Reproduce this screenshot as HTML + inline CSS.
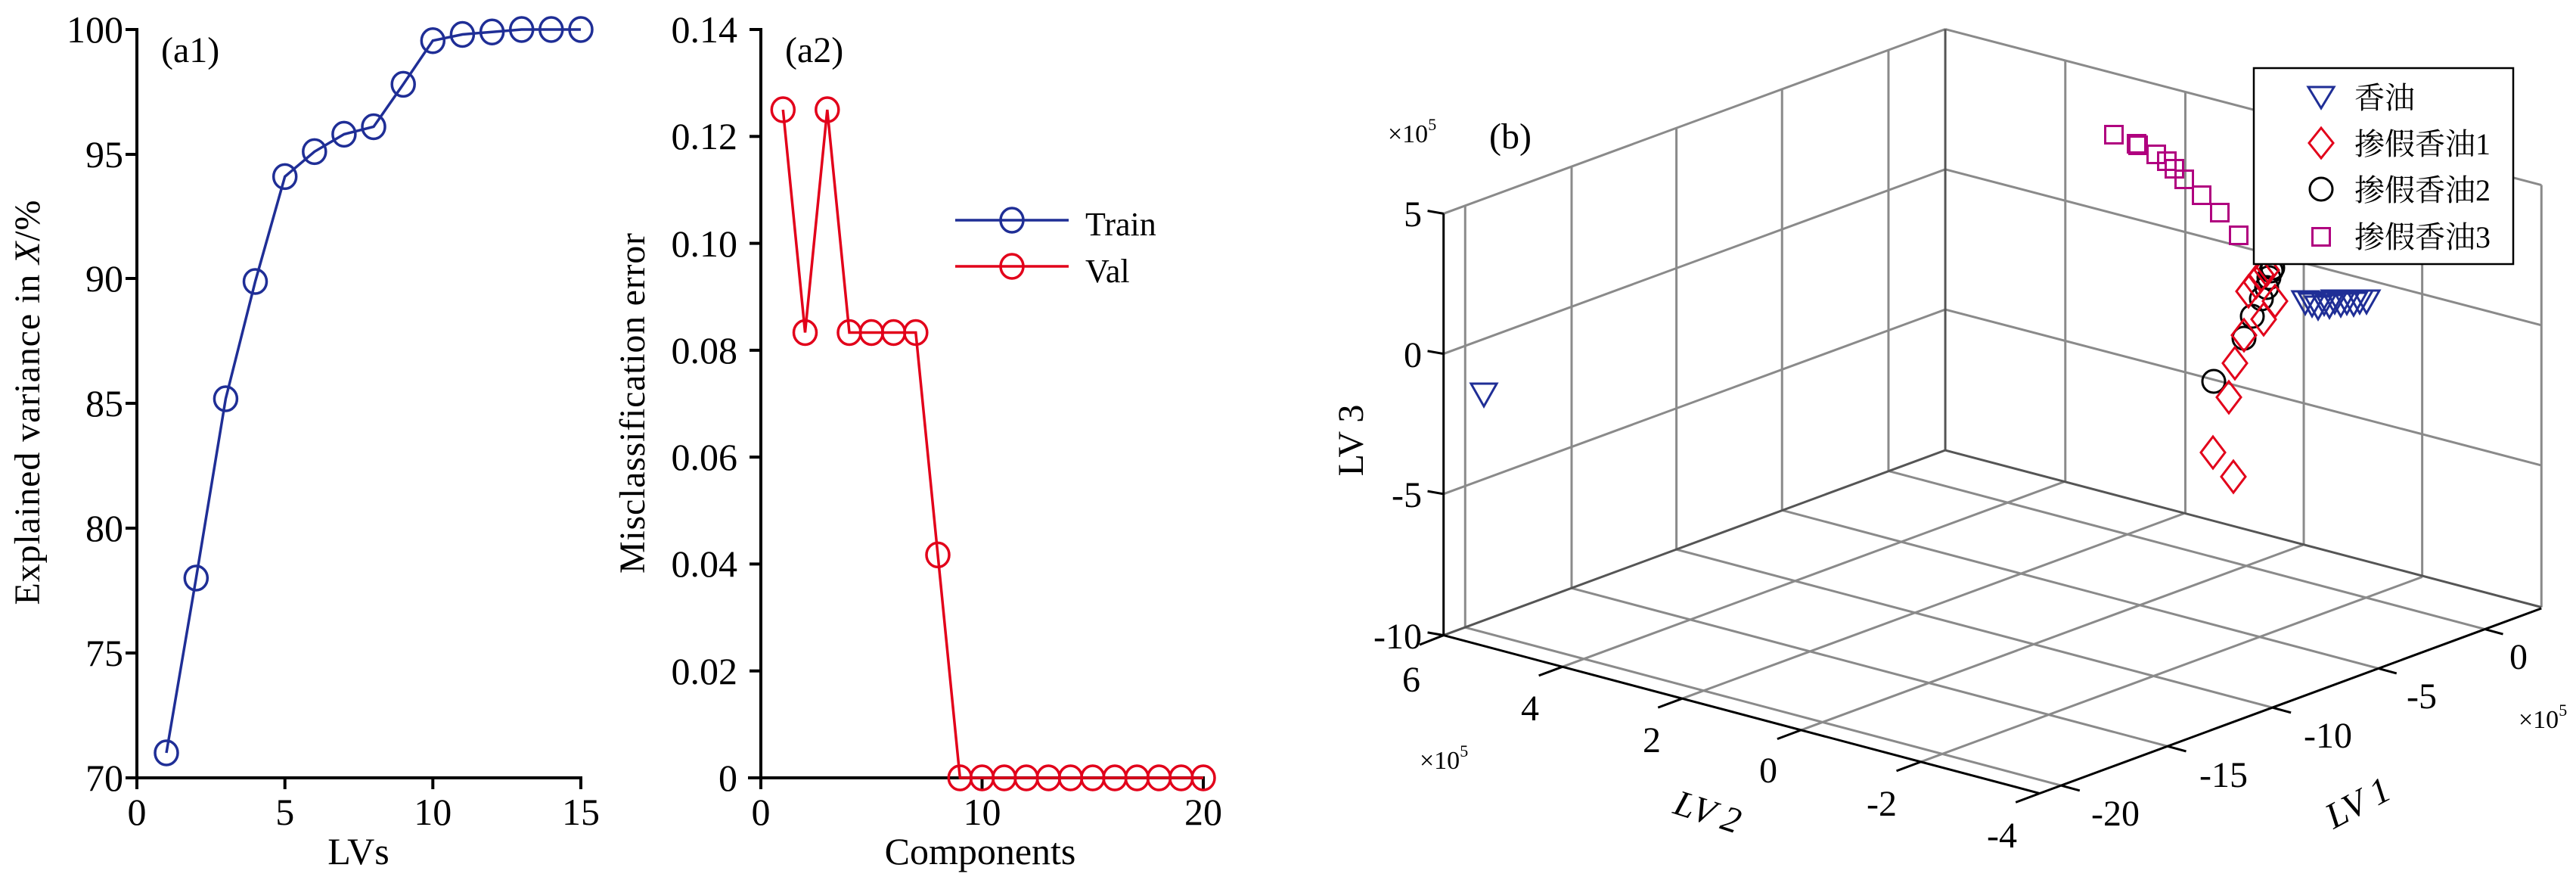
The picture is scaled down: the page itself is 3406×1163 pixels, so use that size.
<!DOCTYPE html>
<html><head><meta charset="utf-8"><style>
html,body{margin:0;padding:0;background:#fff;}
svg{display:block;}
text{font-family:"Liberation Serif","Noto Serif CJK SC",serif;fill:#000;}
</style></head><body>
<svg width="3406" height="1163" viewBox="0 0 3406 1163" xmlns="http://www.w3.org/2000/svg">
<!-- ===== a1 ===== -->
<g stroke="#000" stroke-width="4" fill="none">
<line x1="181" y1="37" x2="181" y2="1030"/>
<line x1="166" y1="1028" x2="770" y2="1028"/>
<line x1="166" y1="39" x2="181" y2="39"/><line x1="166" y1="204" x2="181" y2="204"/><line x1="166" y1="368" x2="181" y2="368"/><line x1="166" y1="533" x2="181" y2="533"/><line x1="166" y1="698" x2="181" y2="698"/><line x1="166" y1="863" x2="181" y2="863"/>
<line x1="181" y1="1028" x2="181" y2="1043"/><line x1="376.7" y1="1028" x2="376.7" y2="1043"/><line x1="572.3" y1="1028" x2="572.3" y2="1043"/><line x1="768" y1="1028" x2="768" y2="1043"/>
</g>
<g font-size="50" text-anchor="end">
<text x="163" y="56">100</text><text x="163" y="221">95</text><text x="163" y="385">90</text><text x="163" y="550">85</text><text x="163" y="715">80</text><text x="163" y="880">75</text><text x="163" y="1045">70</text>
</g>
<g font-size="50" text-anchor="middle">
<text x="181" y="1090">0</text><text x="376.7" y="1090">5</text><text x="572.3" y="1090">10</text><text x="768" y="1090">15</text>
<text x="474" y="1142">LVs</text>
</g>
<text x="213" y="82" font-size="48">(a1)</text>
<text transform="translate(52,532) rotate(-90)" font-size="48" text-anchor="middle" textLength="535">Explained variance in <tspan font-style="italic">X</tspan>/%</text>
<g stroke="#1f2e96" stroke-width="3.5" fill="none">
<polyline points="220,995 259.3,764 298.4,527 337.5,372 376.7,233.4 415.8,200.4 454.9,177.4 494,167.5 533.2,111.4 572.3,53.7 611.4,45.5 650.6,42.2 689.7,39 728.8,39 768,39"/>
<g>
<ellipse cx="220" cy="995" rx="15" ry="16"/><ellipse cx="259.3" cy="764" rx="15" ry="16"/><ellipse cx="298.4" cy="527" rx="15" ry="16"/><ellipse cx="337.5" cy="372" rx="15" ry="16"/><ellipse cx="376.7" cy="233.4" rx="15" ry="16"/><ellipse cx="415.8" cy="200.4" rx="15" ry="16"/><ellipse cx="454.9" cy="177.4" rx="15" ry="16"/><ellipse cx="494" cy="167.5" rx="15" ry="16"/><ellipse cx="533.2" cy="111.4" rx="15" ry="16"/><ellipse cx="572.3" cy="53.7" rx="15" ry="16"/><ellipse cx="611.4" cy="45.5" rx="15" ry="16"/><ellipse cx="650.6" cy="42.2" rx="15" ry="16"/><ellipse cx="689.7" cy="39" rx="15" ry="16"/><ellipse cx="728.8" cy="39" rx="15" ry="16"/><ellipse cx="768" cy="39" rx="15" ry="16"/>
</g></g>
<!-- ===== a2 ===== -->
<g stroke="#000" stroke-width="4" fill="none">
<line x1="1006" y1="37" x2="1006" y2="1030"/>
<line x1="989" y1="1028" x2="1593" y2="1028"/>
<line x1="991" y1="39" x2="1006" y2="39"/><line x1="991" y1="180.3" x2="1006" y2="180.3"/><line x1="991" y1="321.6" x2="1006" y2="321.6"/><line x1="991" y1="462.9" x2="1006" y2="462.9"/><line x1="991" y1="604.1" x2="1006" y2="604.1"/><line x1="991" y1="745.4" x2="1006" y2="745.4"/><line x1="991" y1="886.7" x2="1006" y2="886.7"/>
<line x1="1006" y1="1028" x2="1006" y2="1043"/><line x1="1298.5" y1="1028" x2="1298.5" y2="1043"/><line x1="1591" y1="1028" x2="1591" y2="1043"/>
</g>
<g font-size="50" text-anchor="end">
<text x="975" y="56">0.14</text><text x="975" y="197">0.12</text><text x="975" y="339">0.10</text><text x="975" y="480">0.08</text><text x="975" y="621">0.06</text><text x="975" y="762">0.04</text><text x="975" y="904">0.02</text><text x="975" y="1045">0</text>
</g>
<g font-size="50" text-anchor="middle">
<text x="1006" y="1090">0</text><text x="1298.5" y="1090">10</text><text x="1591" y="1090">20</text>
<text x="1296" y="1142">Components</text>
</g>
<text x="1038" y="82" font-size="48">(a2)</text>
<text transform="translate(852,533) rotate(-90)" font-size="48" text-anchor="middle" textLength="450">Misclassification error</text>
<g fill="none" stroke-width="3.5">
<line x1="1263" y1="291" x2="1413" y2="291" stroke="#1f2e96"/><ellipse cx="1338" cy="291" rx="15" ry="16" stroke="#1f2e96"/>
<line x1="1263" y1="352" x2="1413" y2="352" stroke="#e2001a"/><ellipse cx="1338" cy="352" rx="15" ry="16" stroke="#e2001a"/>
</g>
<text x="1435" y="311" font-size="44">Train</text>
<text x="1435" y="373" font-size="44">Val</text>
<g stroke="#e2001a" stroke-width="3.5" fill="none">
<polyline points="1035.3,145 1064.5,439.5 1093.8,145 1123,439.5 1152.3,439.5 1181.5,439.5 1210.8,439.5 1240,733.4 1269.3,1028 1591,1028"/>
<ellipse cx="1035.3" cy="145" rx="15" ry="16"/><ellipse cx="1064.5" cy="439.5" rx="15" ry="16"/><ellipse cx="1093.8" cy="145" rx="15" ry="16"/><ellipse cx="1123" cy="439.5" rx="15" ry="16"/><ellipse cx="1152.3" cy="439.5" rx="15" ry="16"/><ellipse cx="1181.5" cy="439.5" rx="15" ry="16"/><ellipse cx="1210.8" cy="439.5" rx="15" ry="16"/><ellipse cx="1240" cy="733.4" rx="15" ry="16"/>
<ellipse cx="1269.3" cy="1028" rx="15" ry="16"/><ellipse cx="1298.5" cy="1028" rx="15" ry="16"/><ellipse cx="1327.8" cy="1028" rx="15" ry="16"/><ellipse cx="1357" cy="1028" rx="15" ry="16"/><ellipse cx="1386.3" cy="1028" rx="15" ry="16"/><ellipse cx="1415.5" cy="1028" rx="15" ry="16"/><ellipse cx="1444.8" cy="1028" rx="15" ry="16"/><ellipse cx="1474" cy="1028" rx="15" ry="16"/><ellipse cx="1503.3" cy="1028" rx="15" ry="16"/><ellipse cx="1532.5" cy="1028" rx="15" ry="16"/><ellipse cx="1561.8" cy="1028" rx="15" ry="16"/><ellipse cx="1591" cy="1028" rx="15" ry="16"/>
</g>
<!-- ===== b (3D) ===== -->
<g transform="translate(1750,0) scale(1.058,0.741)" fill="none">
<g stroke="#8a8a8a" stroke-width="3">
<line x1="150" y1="381" x2="777" y2="52" vector-effect="non-scaling-stroke"/>
<line x1="150" y1="631" x2="777" y2="302" vector-effect="non-scaling-stroke"/>
<line x1="150" y1="881" x2="777" y2="552" vector-effect="non-scaling-stroke"/>
<line x1="777" y1="52" x2="1522" y2="330" vector-effect="non-scaling-stroke"/>
<line x1="777" y1="302" x2="1522" y2="580" vector-effect="non-scaling-stroke"/>
<line x1="777" y1="552" x2="1522" y2="830" vector-effect="non-scaling-stroke"/>
<line x1="177" y1="367" x2="177" y2="1119" vector-effect="non-scaling-stroke"/>
<line x1="310" y1="297" x2="310" y2="1049" vector-effect="non-scaling-stroke"/>
<line x1="441" y1="228" x2="441" y2="980" vector-effect="non-scaling-stroke"/>
<line x1="573" y1="159" x2="573" y2="910" vector-effect="non-scaling-stroke"/>
<line x1="706" y1="89" x2="706" y2="840" vector-effect="non-scaling-stroke"/>
<line x1="927" y1="108" x2="927" y2="859" vector-effect="non-scaling-stroke"/>
<line x1="1077" y1="164" x2="1077" y2="916" vector-effect="non-scaling-stroke"/>
<line x1="1225" y1="219" x2="1225" y2="971" vector-effect="non-scaling-stroke"/>
<line x1="1373" y1="274" x2="1373" y2="1027" vector-effect="non-scaling-stroke"/>
<line x1="1522" y1="330" x2="1522" y2="1083" vector-effect="non-scaling-stroke"/>
<line x1="177" y1="1119" x2="922" y2="1401" vector-effect="non-scaling-stroke"/>
<line x1="310" y1="1049" x2="1055" y2="1331" vector-effect="non-scaling-stroke"/>
<line x1="441" y1="980" x2="1186" y2="1262" vector-effect="non-scaling-stroke"/>
<line x1="573" y1="910" x2="1318" y2="1192" vector-effect="non-scaling-stroke"/>
<line x1="706" y1="840" x2="1451" y2="1122" vector-effect="non-scaling-stroke"/>
<line x1="299" y1="1189" x2="926" y2="859" vector-effect="non-scaling-stroke"/>
<line x1="448" y1="1246" x2="1075" y2="916" vector-effect="non-scaling-stroke"/>
<line x1="597" y1="1302" x2="1224" y2="972" vector-effect="non-scaling-stroke"/>
<line x1="746" y1="1359" x2="1373" y2="1029" vector-effect="non-scaling-stroke"/>
</g>
<g stroke="#555" stroke-width="3">
<line x1="777" y1="52" x2="777" y2="803" vector-effect="non-scaling-stroke"/>
<line x1="150" y1="1133" x2="777" y2="803" vector-effect="non-scaling-stroke"/>
<line x1="777" y1="803" x2="1522" y2="1083" vector-effect="non-scaling-stroke"/>
</g>
<g stroke="#000" stroke-width="3">
<line x1="150" y1="381" x2="150" y2="1133" vector-effect="non-scaling-stroke"/>
<line x1="150" y1="1133" x2="895" y2="1415" vector-effect="non-scaling-stroke"/>
<line x1="895" y1="1415" x2="1522" y2="1085" vector-effect="non-scaling-stroke"/>
<line x1="130" y1="376" x2="150" y2="381" vector-effect="non-scaling-stroke"/>
<line x1="130" y1="626" x2="150" y2="631" vector-effect="non-scaling-stroke"/>
<line x1="130" y1="876" x2="150" y2="881" vector-effect="non-scaling-stroke"/>
<line x1="130" y1="1128" x2="150" y2="1133" vector-effect="non-scaling-stroke"/>
<line x1="150" y1="1133" x2="120" y2="1150" vector-effect="non-scaling-stroke"/>
<line x1="299" y1="1189" x2="269" y2="1205" vector-effect="non-scaling-stroke"/>
<line x1="448" y1="1246" x2="418" y2="1262" vector-effect="non-scaling-stroke"/>
<line x1="597" y1="1302" x2="567" y2="1318" vector-effect="non-scaling-stroke"/>
<line x1="746" y1="1359" x2="716" y2="1375" vector-effect="non-scaling-stroke"/>
<line x1="895" y1="1415" x2="865" y2="1431" vector-effect="non-scaling-stroke"/>
<line x1="922" y1="1401" x2="945" y2="1410" vector-effect="non-scaling-stroke"/>
<line x1="1055" y1="1331" x2="1078" y2="1340" vector-effect="non-scaling-stroke"/>
<line x1="1186" y1="1262" x2="1209" y2="1271" vector-effect="non-scaling-stroke"/>
<line x1="1318" y1="1192" x2="1341" y2="1201" vector-effect="non-scaling-stroke"/>
<line x1="1451" y1="1122" x2="1474" y2="1131" vector-effect="non-scaling-stroke"/>
</g>
</g>
<g font-size="48" text-anchor="end">
<text x="1880" y="299">5</text><text x="1880" y="485">0</text><text x="1880" y="670">-5</text><text x="1880" y="857">-10</text>
</g>
<g font-size="48" text-anchor="middle">
<text x="1866" y="914">6</text><text x="2023" y="952">4</text><text x="2184" y="994">2</text><text x="2338" y="1034">0</text><text x="2488" y="1078">-2</text><text x="2647" y="1120">-4</text>
<text x="3330" y="884">0</text><text x="3202" y="936">-5</text><text x="3078" y="988">-10</text><text x="2940" y="1040">-15</text><text x="2797" y="1091">-20</text>
</g>
<g font-size="34">
<text x="1835" y="188">×10<tspan font-size="22" dy="-16">5</tspan></text>
<text x="1877" y="1016">×10<tspan font-size="22" dy="-16">5</tspan></text>
<text x="3330" y="962">×10<tspan font-size="22" dy="-16">5</tspan></text>
</g>
<text x="1997" y="196" font-size="48" text-anchor="middle">(b)</text>
<text transform="translate(1802,582) rotate(-90)" font-size="48" text-anchor="middle">LV 3</text>
<text transform="translate(2253,1088) rotate(18)" font-size="48" text-anchor="middle" font-style="italic">LV 2</text>
<text transform="translate(3125,1075) rotate(-28)" font-size="48" text-anchor="middle" font-style="italic">LV 1</text>
<g fill="none" stroke-width="3">
<g stroke="#b0007f">
<rect x="2783.5" y="166.5" width="23" height="23"/><rect x="2813.5" y="178.5" width="23" height="23"/><rect x="2815.5" y="180.5" width="23" height="23"/><rect x="2839.5" y="192.5" width="23" height="23"/><rect x="2853.5" y="201.5" width="23" height="23"/><rect x="2863.5" y="211.5" width="23" height="23"/><rect x="2876.5" y="225.5" width="23" height="23"/><rect x="2899.5" y="246.5" width="23" height="23"/><rect x="2923.5" y="269.5" width="23" height="23"/><rect x="2948.5" y="299.5" width="23" height="23"/>
</g>
<g stroke="#1f2e96">
<polygon points="1945,507 1979,507 1962,537"/>
<polygon points="3031,385 3065,385 3048,415"/><polygon points="3040,388 3074,388 3057,418"/><polygon points="3048,392 3082,392 3065,422"/><polygon points="3056,386 3090,386 3073,416"/><polygon points="3063,390 3097,390 3080,420"/><polygon points="3070,384 3104,384 3087,414"/><polygon points="3078,388 3112,388 3095,418"/><polygon points="3086,385 3120,385 3103,415"/><polygon points="3095,387 3129,387 3112,417"/><polygon points="3103,384 3137,384 3120,414"/><polygon points="3112,384 3146,384 3129,414"/>
</g>
<g stroke="#000">
<circle cx="2927" cy="504" r="15"/><circle cx="2967" cy="447" r="15"/><circle cx="2978" cy="418" r="15"/><circle cx="2990" cy="395" r="15"/><circle cx="2997" cy="380" r="15"/><circle cx="3000" cy="367" r="15"/><circle cx="3003" cy="358" r="15"/><circle cx="3005" cy="354" r="15"/>
</g>
<g stroke="#e2001a">
<polygon points="2926,577 2942,598 2926,619 2910,598"/><polygon points="2953,609 2969,630 2953,651 2937,630"/><polygon points="2947,504 2963,525 2947,546 2931,525"/><polygon points="2955,459 2971,480 2955,501 2939,480"/><polygon points="2967,422 2983,443 2967,464 2951,443"/><polygon points="2993,401 3009,422 2993,443 2977,422"/><polygon points="3008,377 3024,398 3008,419 2992,398"/><polygon points="2973,364 2989,385 2973,406 2957,385"/><polygon points="2983,352 2999,373 2983,394 2967,373"/><polygon points="2990,342 3006,363 2990,384 2974,363"/><polygon points="2997,336 3013,357 2997,378 2981,357"/>
</g>
</g>
<rect x="2980" y="90" width="343" height="259" fill="#fff" stroke="#000" stroke-width="2.5"/>
<g fill="none" stroke-width="3">
<polygon points="3052,115 3086,115 3069,143" stroke="#1f2e96"/>
<polygon points="3069,169 3085,189 3069,209 3053,189" stroke="#e2001a"/>
<circle cx="3069" cy="250" r="15" stroke="#000"/>
<rect x="3057.5" y="301.5" width="23" height="23" stroke="#b0007f"/>
</g>
<g font-size="40">
<text x="3113" y="143">香油</text>
<text x="3113" y="204">掺假香油1</text>
<text x="3113" y="265">掺假香油2</text>
<text x="3113" y="327">掺假香油3</text>
</g>
</svg>
</body></html>
